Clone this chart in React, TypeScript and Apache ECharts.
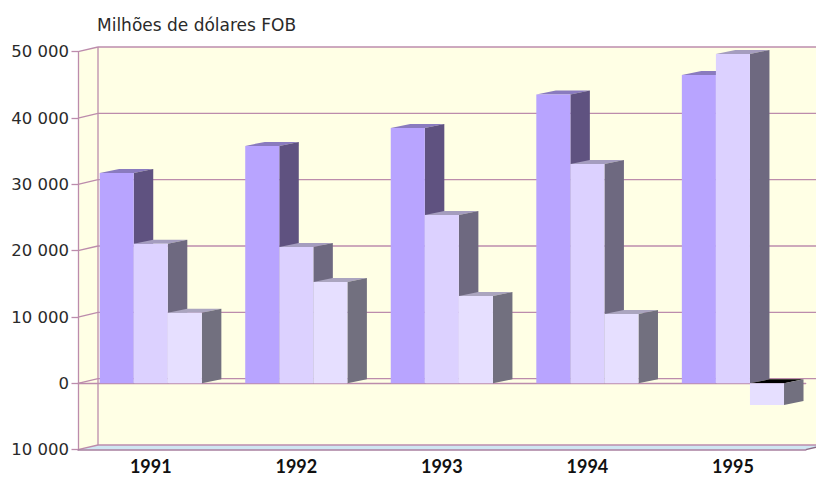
import React, { useEffect, useRef } from "react";
import * as echarts from "echarts";

const categories = ["1991", "1992", "1993", "1994", "1995"];
const seriesA = [31700, 35800, 38500, 43560, 46500];
const seriesB = [21050, 20560, 25400, 33080, 49670];
const seriesC = [10650, 15280, 13170, 10450, -3270];
const yTicks = [-10000, 0, 10000, 20000, 30000, 40000, 50000];
const titleText = "Milhões de dólares FOB";

const barPalette = [
  { front: "#B8A4FF", side: "#5F5280", top: "#8A7BBF" },
  { front: "#DCD1FF", side: "#6E6980", top: "#A59DBF" },
  { front: "#E6DFFF", side: "#72707F", top: "#ABA5BF" },
];
const LINE = "#BC8CAC";
const WALL = "#FFFFE5";
const FLOOR = "#CFE6F2";
const WALL_DX = 20;
const WALL_DY = 4.7;
const BAR_DX = 19.5;
const BAR_DY = 4;
const BAR_SHARE = 0.234;

const fmt = (v: number) => {
  const a = Math.abs(v);
  if (a === 0) return "0";
  return `${Math.floor(a / 1000)} ${String(a % 1000).padStart(3, "0")}`;
};

function wallItem(params: any, api: any) {
  const c = params.coordSys;
  const tick = api.value(0);
  const y = api.coord([0, tick])[1];
  const x0 = c.x;
  const x1 = c.x + c.width;
  const ln = { stroke: LINE, lineWidth: 1.3, fill: "none" };
  const children: any[] = [];
  if (params.dataIndex === 0) {
    const top = c.y;
    const bottom = c.y + c.height;
    children.push(
      { type: "polygon", shape: { points: [[x0, top], [x0 + WALL_DX, top - WALL_DY], [x0 + WALL_DX, bottom - WALL_DY], [x0, bottom]] }, style: { fill: WALL, stroke: "none" } },
      { type: "rect", shape: { x: x0 + WALL_DX, y: top - WALL_DY, width: c.width, height: c.height }, style: { fill: WALL, stroke: "none" } },
      { type: "polygon", shape: { points: [[x0, bottom], [x1, bottom], [x1 + WALL_DX, bottom - WALL_DY], [x0 + WALL_DX, bottom - WALL_DY]] }, style: { fill: FLOOR, stroke: "none" } },
      { type: "line", shape: { x1: x0 + WALL_DX, y1: top - WALL_DY, x2: x0 + WALL_DX, y2: bottom - WALL_DY }, style: ln },
      { type: "line", shape: { x1: x1, y1: bottom, x2: x1 + WALL_DX, y2: bottom - WALL_DY }, style: { stroke: "#8A6A85", lineWidth: 1.3 } },
    );
  }
  children.push(
    { type: "line", shape: { x1: x0, y1: y, x2: x0 + WALL_DX, y2: y - WALL_DY }, style: ln },
    { type: "line", shape: { x1: x0 + WALL_DX, y1: y - WALL_DY, x2: x1 + WALL_DX, y2: y - WALL_DY }, style: ln },
  );
  return { type: "group", children };
}

function makeBarRender(seriesIndex: number) {
  return (params: any, api: any) => {
    const cat = api.value(0);
    const val = api.value(1);
    const band = api.size([1, 0])[0];
    const w = band * BAR_SHARE;
    const center = api.coord([cat, 0])[0];
    const xl = center - 1.5 * w + seriesIndex * w;
    const xr = xl + w;
    const y0 = api.coord([cat, 0])[1];
    const yv = api.coord([cat, val])[1];
    const pal = barPalette[seriesIndex];
    const yTop = Math.min(y0, yv);
    const yBot = Math.max(y0, yv);
    const topFill = val < 0 ? "#000000" : pal.top;
    return {
      type: "group",
      children: [
        { type: "polygon", shape: { points: [[xl, yTop], [xr, yTop], [xr + BAR_DX, yTop - BAR_DY], [xl + BAR_DX, yTop - BAR_DY]] }, style: { fill: topFill } },
        { type: "polygon", shape: { points: [[xr, yTop], [xr + BAR_DX, yTop - BAR_DY], [xr + BAR_DX, yBot - BAR_DY], [xr, yBot]] }, style: { fill: pal.side } },
        { type: "rect", shape: { x: xl, y: yTop, width: w, height: yBot - yTop }, style: { fill: pal.front } },
      ],
    };
  };
}

const barSeries = (values: number[], i: number) => ({
  type: "custom",
  name: `s${i}`,
  z: 3 + i,
  clip: false,
  xAxisIndex: 0,
  yAxisIndex: 0,
  encode: { x: 0, y: 1 },
  renderItem: makeBarRender(i),
  data: values.map((v, k) => [k, v]),
});

export default function App() {
  const ref = useRef<HTMLDivElement>(null);
  useEffect(() => {
    const chart = echarts.init(ref.current!, undefined, { renderer: "svg" });
    chart.setOption({
      animation: false,
      backgroundColor: "#FFFFFF",
      title: {
        text: titleText,
        left: 92,
        top: 11.5,
        textStyle: { fontFamily: "'DejaVu Sans'", fontSize: 17, fontWeight: "normal", color: "#2A2A2A" },
      },
      grid: { left: 78, right: 10.3, top: 51.7, bottom: 27.3, containLabel: false, outerBoundsMode: "none" },
      xAxis: [
        {
          type: "category",
          data: categories,
          position: "bottom",
          axisLine: { onZero: false, lineStyle: { color: "#A87F9F", width: 1.6 } },
          axisTick: { alignWithLabel: true, length: 5, lineStyle: { color: LINE, width: 1 } },
          axisLabel: { fontFamily: "Lato", fontSize: 18, fontWeight: 700, color: "#111111", margin: 7 },
        },
        {
          type: "category",
          data: categories,
          position: "bottom",
          axisLine: { onZero: true, lineStyle: { color: LINE, width: 1.3 } },
          axisTick: { alignWithLabel: true, length: 5, lineStyle: { color: LINE, width: 1 } },
          axisLabel: { show: false },
        },
      ],
      yAxis: {
        type: "value",
        min: -10000,
        max: 50000,
        interval: 10000,
        axisLine: { show: true, lineStyle: { color: LINE, width: 1.3 } },
        axisTick: { show: true, length: 6.5, lineStyle: { color: LINE, width: 1.3 } },
        splitLine: { show: false },
        axisLabel: { formatter: fmt, fontFamily: "'DejaVu Sans'", fontSize: 16.5, color: "#2A2A2A", margin: 9 },
      },
      series: [
        {
          type: "custom",
          z: -1,
          clip: false,
          silent: true,
          encode: { y: 0 },
          renderItem: wallItem,
          data: yTicks.map((t) => [t]),
        },
        barSeries(seriesA, 0),
        barSeries(seriesB, 1),
        barSeries(seriesC, 2),
      ],
    });
    return () => chart.dispose();
  }, []);
  return <div ref={ref} style={{ position: "absolute", left: 0, top: 0, width: 816, height: 477, overflow: "hidden" }} />;
}
